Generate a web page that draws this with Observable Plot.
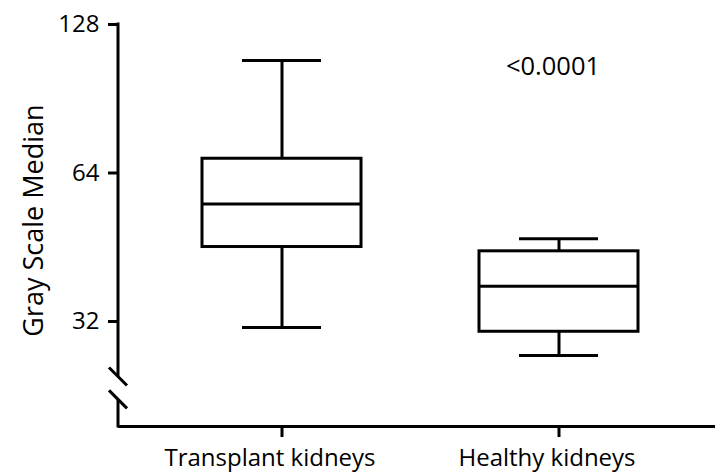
<!DOCTYPE html>
<html><head><meta charset="utf-8">
<script src="https://cdn.jsdelivr.net/npm/d3@7"></script>
<script src="https://cdn.jsdelivr.net/npm/@observablehq/plot@0.6"></script>
<style>html,body{margin:0;padding:0;background:#fff} svg{display:block}</style>
</head><body><div id="chart"></div>
<script>
const groups = ["Transplant kidneys", "Healthy kidneys"];
const whiskerLow = [31.1, 27.3];
const q1 = [45.3, 30.5];
const median = [55.4, 37.7];
const q3 = [68.4, 44.4];
const whiskerHigh = [108.2, 47.1];
const yTicks = [32, 64, 128];
const yDomain = [19.6, 128];
const axisBreak = [24.7, 22.2];
const yLabel = "Gray Scale Median";
const pLabel = "<0.0001";
const pLabelGroup = "Healthy kidneys";
const pLabelY = 105;

const boxes = groups.map((g, i) => ({group: g, lo: whiskerLow[i], q1: q1[i], med: median[i], q3: q3[i], hi: whiskerHigh[i]}));
const FONT = "Open Sans";

function yAxisLine(index, scales, values, dims) {
  const g = d3.create("svg:g").attr("stroke", "black").attr("stroke-width", 3).attr("fill", "none");
  const x = dims.marginLeft;
  const yTop = scales.y(yDomain[1]) - 1.5;
  const yBot = dims.height - dims.marginBottom + 1.5;
  const b1 = scales.y(axisBreak[0]), b2 = scales.y(axisBreak[1]);
  g.append("line").attr("x1", x).attr("x2", x).attr("y1", yTop).attr("y2", b1);
  g.append("line").attr("x1", x).attr("x2", x).attr("y1", b2).attr("y2", yBot);
  for (const b of [b1, b2]) {
    g.append("line").attr("x1", x - 9).attr("y1", b - 9).attr("x2", x + 9).attr("y2", b + 9);
  }
  return g.node();
}

const chart = Plot.plot({
  width: 715,
  height: 473,
  marginTop: 24,
  marginBottom: 47,
  marginLeft: 118,
  marginRight: 0,
  style: {fontFamily: FONT, fontSize: "24px", color: "black", background: "white"},
  x: {domain: groups, paddingInner: 0.4245, paddingOuter: 0.2885, align: 0.522},
  y: {type: "log", base: 2, domain: yDomain},
  marks: [
    Plot.axisY({ticks: yTicks, tickFormat: d => String(d), tickSize: 10, tickPadding: 9, strokeWidth: 3, fontSize: 24, label: null}),
    Plot.axisX({tickSize: 11, tickPadding: 13, strokeWidth: 3, tickFormat: () => "", label: null}),
    Plot.axisX({tickSize: 0, tickPadding: 22, fontSize: 24, dx: -12, label: null}),
    Plot.text([yLabel], {frameAnchor: "left", textAnchor: "middle", lineAnchor: "middle", rotate: -90, dx: -84, dy: -5, fontSize: 27, fill: "black"}),
    Plot.ruleY([yDomain[0]], {strokeWidth: 3}),
    yAxisLine,
    Plot.ruleX(boxes, {x: "group", y1: "lo", y2: "hi", strokeWidth: 3}),
    Plot.barY(boxes, {x: "group", y1: "q1", y2: "q3", fill: "white", stroke: "black", strokeWidth: 3}),
    Plot.tickY(boxes, {x: "group", y: "med", strokeWidth: 3}),
    Plot.tickY(boxes, {x: "group", y: "lo", insetLeft: 40, insetRight: 40, strokeWidth: 3}),
    Plot.tickY(boxes, {x: "group", y: "hi", insetLeft: 40, insetRight: 40, strokeWidth: 3}),
    Plot.text([{group: pLabelGroup, y: pLabelY, label: pLabel}], {x: "group", y: "y", text: "label", dx: -6, fontSize: 25.5, fill: "black"})
  ]
});
document.getElementById("chart").appendChild(chart);
</script>
</body></html>
